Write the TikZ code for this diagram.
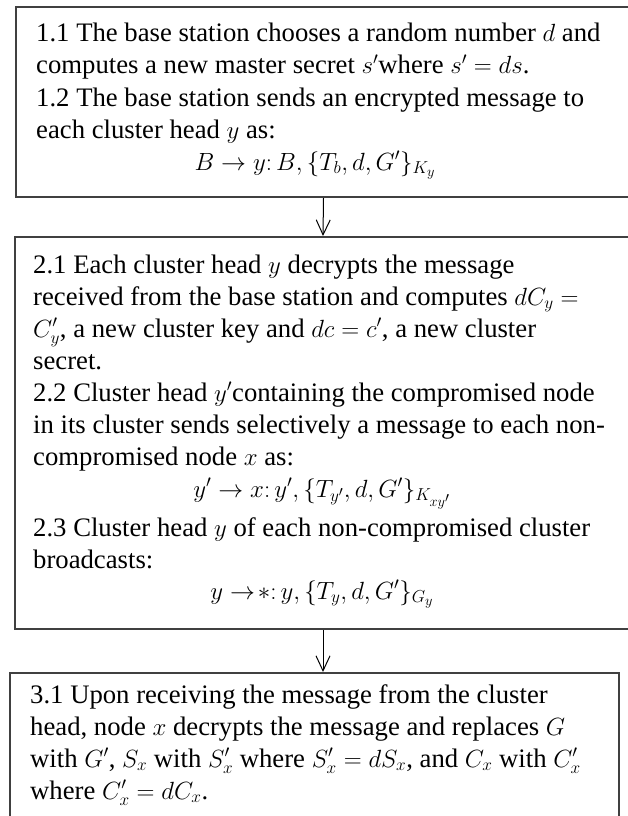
\documentclass[tikz,border=0pt]{standalone}
\usepackage{fontspec}
\setmainfont{Liberation Serif}
\usetikzlibrary{arrows.meta}
\tikzset{
  boxst/.style={draw=black!75, line width=2pt, fill=none, inner sep=0pt, anchor=north west},
  ln/.style={anchor=base west, inner sep=0pt, font=\fontsize{26.7}{32}\selectfont},
  fm/.style={anchor=base, inner sep=0pt, font=\fontsize{26.7}{32}\selectfont},
  arr/.style={line width=1pt, black, -{Straight Barb[length=15pt,width=14pt,line width=1pt]}}
}
\begin{document}
\begin{tikzpicture}[x=1pt,y=-1pt]
\useasboundingbox (0,0) rectangle (628,816);
% boxes
\node[boxst, minimum width=615pt, minimum height=190pt] (b1) at (15,6) {};
\node[boxst, minimum width=616pt, minimum height=392pt] (b2) at (14,236) {};
\node[boxst, minimum width=609pt, minimum height=146pt] (b3) at (9,672) {};
% box 1 text
\node[ln] (t11) at (36,42) {1.1 The base station chooses a random number $d$ and};
\node[ln] (t12) at (36,74) {computes a new master secret $s'$where $s' = ds$.};
\node[ln] (t13) at (36,106) {1.2 The base station sends an encrypted message to};
\node[ln] (t14) at (36,138) {each cluster head $y$ as:};
\node[fm] (f1) at (315,170) {$B \rightarrow y\colon B, \{T_b, d, G'\}_{K_y}$};
% box 2 text
\node[ln] (t21) at (33,273) {2.1 Each cluster head $y$ decrypts the message};
\node[ln] (t22) at (33,305) {received from the base station and computes $dC_y =$};
\node[ln] (t23) at (33,337) {$C'_y$, a new cluster key and $dc = c'$, a new cluster};
\node[ln] (t24) at (33,369) {secret.};
\node[ln] (t25) at (33,401) {2.2 Cluster head $y'$containing the compromised node};
\node[ln] (t26) at (33,433) {in its cluster sends selectively a message to each non-};
\node[ln] (t27) at (33,465) {compromised node $x$ as:};
\node[fm] (f2) at (322,497) {$y' \rightarrow x\colon y', \{T_{y'}, d, G'\}_{K_{xy'}}$};
\node[ln] (t28) at (33,536) {2.3 Cluster head $y$ of each non-compromised cluster};
\node[ln] (t29) at (33,568) {broadcasts:};
\node[fm] (f3) at (322,599) {$y \mathrel{\rightarrow\!{*}}\colon y, \{T_y, d, G'\}_{G_y}$};
% box 3 text
\node[ln] (t31) at (30,703) {3.1 Upon receiving the message from the cluster};
\node[ln] (t32) at (30,735) {head, node $x$ decrypts the message and replaces $G$};
\node[ln] (t33) at (30,767) {with $G'$, $S_x$ with $S'_x$ where $S'_x = dS_x$, and $C_x$ with $C'_x$};
\node[ln] (t34) at (30,799) {where $C'_x = dC_x$.};
% arrows
\draw[arr] (b1.south) -- (b2.north);
\draw[arr] (b2.south) -- (b2.south |- b3.north);
\end{tikzpicture}
\end{document}
